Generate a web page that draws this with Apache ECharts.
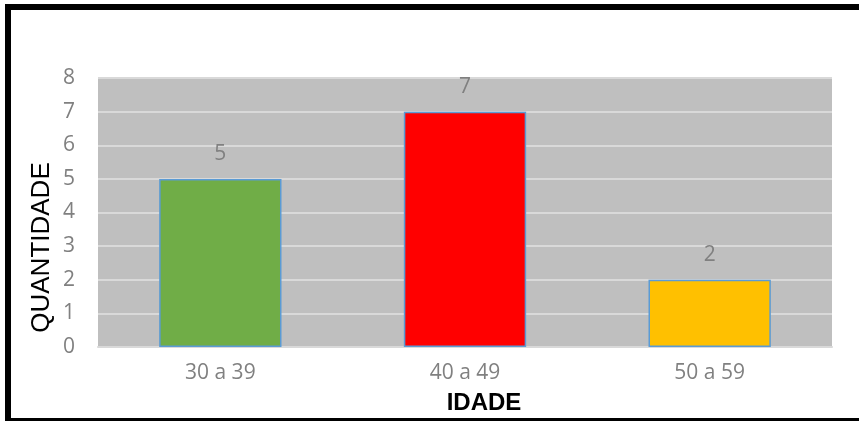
<!DOCTYPE html>
<html>
<head>
<meta charset="utf-8">
<script src="https://cdn.jsdelivr.net/npm/echarts@6/dist/echarts.min.js"></script>
<style>
  html, body { margin: 0; padding: 0; background: #fff; }
  #chart { width: 859px; height: 421px; }
</style>
</head>
<body>
<div id="chart"></div>
<script>
// Age groups and number of people in each
const categories = ['30 a 39', '40 a 49', '50 a 59'];
const values = [5, 7, 2];
const barColors = ['#70AD47', '#FF0000', '#FFC000'];
const yTicks = [0, 1, 2, 3, 4, 5, 6, 7, 8];

const chart = echarts.init(document.getElementById('chart'), null, { renderer: 'canvas' });

const labelFont = '"Open Sans", "Liberation Sans", sans-serif';
const labelColor = '#808080';

chart.setOption({
  animation: false,
  grid: {
    left: 98, right: 27, top: 78, bottom: 74,
    show: true, backgroundColor: '#BFBFBF', borderWidth: 0
  },
  xAxis: {
    type: 'category',
    data: categories,
    axisTick: { show: false },
    axisLine: { show: true, lineStyle: { color: '#D9D9D9', width: 2 } },
    axisLabel: { color: labelColor, fontFamily: labelFont, fontSize: 21, margin: 16 }
  },
  yAxis: {
    type: 'value',
    min: yTicks[0], max: yTicks[yTicks.length - 1], interval: 1,
    axisLine: { show: false },
    axisTick: { show: false },
    splitLine: { lineStyle: { color: '#D9D9D9', width: 2 } },
    axisLabel: { color: labelColor, fontFamily: labelFont, fontSize: 21, margin: 23 }
  },
  series: [{
    type: 'bar',
    barWidth: '50%',
    data: values.map((v, i) => ({ value: v, itemStyle: { color: barColors[i] } })),
    itemStyle: { borderColor: '#5B9BD5', borderWidth: 1.5 },
    label: {
      show: true, position: 'top', distance: 14,
      color: labelColor, fontFamily: labelFont, fontSize: 21
    }
  }],
  graphic: [
    {
      type: 'text',
      x: 42, y: 247.5, rotation: Math.PI / 2,
      style: {
        text: 'QUANTIDADE', fill: '#000',
        font: '26px "Liberation Sans", Arial, sans-serif',
        textAlign: 'center', textVerticalAlign: 'middle'
      }
    },
    {
      type: 'text',
      x: 484, y: 403,
      style: {
        text: 'IDADE', fill: '#000',
        font: 'bold 24px "Liberation Sans", Arial, sans-serif',
        textAlign: 'center', textVerticalAlign: 'middle'
      }
    },
    {
      type: 'rect',
      shape: { x: 8, y: 7, width: 900, height: 414 },
      style: { fill: 'none', stroke: '#000', lineWidth: 6 }
    }
  ]
});
</script>
</body>
</html>
